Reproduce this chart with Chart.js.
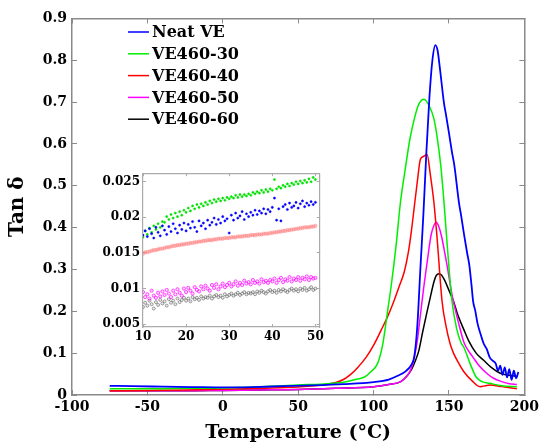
<!DOCTYPE html>
<html>
<head>
<meta charset="utf-8">
<script src="https://cdn.jsdelivr.net/npm/chart.js@4.4.0/dist/chart.umd.min.js"></script>
<style>
html, body { margin: 0; padding: 0; background: #fff; }
#wrap { position: relative; width: 548px; height: 447px; }
#main { position: absolute; left: 0; top: 0; }
#inset { position: absolute; left: 100px; top: 160px; }
</style>
</head>
<body>
<div id="wrap">
  <canvas id="main" width="548" height="447"></canvas>
  <canvas id="inset" width="230" height="190"></canvas>
</div>
<script>
// ---- DMA tan delta curves ----
var FONT = '"DejaVu Serif", serif';

var seriesNames  = ['Neat VE', 'VE460-30', 'VE460-40', 'VE460-50', 'VE460-60'];
var seriesColors = ['#0000ff', '#00ee00', '#ff0000', '#ff00ff', '#000000'];

var tempNeat = [-75,-60,-40,-20,0,20,40,60,80,100,110,116,121,125,127,129,131,133,135,137,139,141,142.5,144,146.7,148,150,152,153.5,156.6,158,160,162,163.5,165,166,167.5,169,171,173,175,177,179,181,182.5,184,185.5,187,188.5,190,191.5,193,194.5,196];
var tanNeat  = [0.022,0.021,0.020,0.019,0.018,0.019,0.021,0.023,0.026,0.031,0.037,0.046,0.056,0.072,0.092,0.165,0.30,0.43,0.58,0.71,0.80,0.836,0.822,0.78,0.697,0.67,0.626,0.58,0.55,0.46,0.43,0.383,0.34,0.31,0.26,0.224,0.20,0.17,0.145,0.123,0.11,0.09,0.082,0.075,0.058,0.07,0.048,0.066,0.042,0.062,0.036,0.058,0.04,0.055];

var temp30 = [-75,-50,-25,0,25,50,70,81,88,94,98,102.6,106,109,112,115,117.8,121,124,127,130,133.5,137,140,142,144.5,146.7,149,152,155,158,160,164,168,172,177,185,195];
var tan30  = [0.015,0.015,0.016,0.017,0.020,0.024,0.027,0.031,0.037,0.043,0.055,0.075,0.12,0.193,0.27,0.36,0.46,0.54,0.61,0.66,0.695,0.707,0.69,0.66,0.62,0.55,0.46,0.35,0.224,0.16,0.125,0.113,0.075,0.043,0.032,0.028,0.022,0.02];

var temp40 = [-75,-50,-25,0,25,50,75,80,85,89.5,95,100.6,105,109,113,117,120.4,123,125,127,129,131,133,135.5,137.5,140,142,145.4,148,150.7,153,156.6,160,165,170.6,174,177,185,195];
var tan40  = [0.010,0.011,0.012,0.014,0.016,0.019,0.030,0.037,0.05,0.066,0.09,0.123,0.155,0.185,0.22,0.26,0.295,0.34,0.39,0.45,0.51,0.563,0.57,0.575,0.53,0.46,0.38,0.224,0.165,0.123,0.10,0.075,0.055,0.035,0.02,0.022,0.024,0.02,0.015];

var temp50 = [-75,-50,-25,0,25,50,75,100,110,118,122,124.6,127,129,131,133.5,136,138,140,141.5,143,145,148.7,152,156.5,160,163,166,170,175,179.6,185,190,195];
var tan50  = [0.010,0.010,0.010,0.011,0.012,0.013,0.016,0.020,0.025,0.032,0.045,0.060,0.09,0.13,0.19,0.264,0.33,0.38,0.405,0.413,0.405,0.38,0.31,0.24,0.17,0.125,0.105,0.09,0.07,0.052,0.04,0.032,0.027,0.025];

var temp60 = [-75,-50,-25,0,25,50,75,100,110,118,122,125,127.5,130,132.5,135.5,138,140,141.5,143.4,145,147,150,153,156,160,163,168,173,178,184,190,195];
var tan60  = [0.010,0.010,0.010,0.011,0.012,0.013,0.016,0.020,0.025,0.032,0.045,0.060,0.08,0.106,0.15,0.20,0.24,0.27,0.285,0.29,0.287,0.275,0.25,0.224,0.19,0.155,0.13,0.10,0.083,0.066,0.052,0.047,0.045];

var xTicksMain = [-100,-50,0,50,100,150,200];
var yTicksMain = [0,0.1,0.2,0.3,0.4,0.5,0.6,0.7,0.8,0.9];

// ---- inset (10-50 °C) ----
var insetTemp = [10,10.5,11,11.5,12,12.5,13,13.5,14,14.5,15,15.5,16,16.5,17,17.5,18,18.5,19,19.5,20,20.5,21,21.5,22,22.5,23,23.5,24,24.5,25,25.5,26,26.5,27,27.5,28,28.5,29,29.5,30,30.5,31,31.5,32,32.5,33,33.5,34,34.5,35,35.5,36,36.5,37,37.5,38,38.5,39,39.5,40,40.5,41,41.5,42,42.5,43,43.5,44,44.5,45,45.5,46,46.5,47,47.5,48,48.5,49,49.5,50];
var insetNeat = [0.0175,0.0181,0.0173,0.0184,0.0177,0.0171,0.0186,0.0179,0.0174,0.0188,
                 0.0182,0.0176,0.0187,0.0180,0.0191,0.0184,0.0178,0.0189,0.0183,0.0192,
                 0.0181,0.0190,0.0185,0.0194,0.0186,0.0180,0.0195,0.0188,0.0192,0.0184,
                 0.0196,0.0189,0.0193,0.0199,0.0190,0.0197,0.0192,0.0201,0.0195,0.0198,
                 0.0178,0.0203,0.0196,0.0206,0.0199,0.0202,0.0208,0.0197,0.0205,0.0201,
                 0.0207,0.0203,0.0210,0.0204,0.0209,0.0206,0.0212,0.0205,0.0211,0.0208,
                 0.0214,0.0227,0.0196,0.0212,0.0195,0.0215,0.0218,0.0211,0.0220,0.0214,
                 0.0216,0.0221,0.0213,0.0219,0.0223,0.0215,0.0220,0.0217,0.0222,0.0218,
                 0.0221];
var insetVE30 = [0.0172,0.0181,0.0176,0.0185,0.0179,0.0188,0.0183,0.0191,0.0186,0.0194,
                 0.0193,0.0201,0.0197,0.0204,0.0199,0.0206,0.0201,0.0208,0.0203,0.0210,
                 0.0207,0.0213,0.0209,0.0216,0.0212,0.0218,0.0214,0.0219,0.0216,0.0221,
                 0.0218,0.0223,0.0220,0.0225,0.0222,0.0226,0.0223,0.0227,0.0224,0.0228,
                 0.0226,0.0229,0.0227,0.0231,0.0228,0.0232,0.0229,0.0232,0.0230,0.0233,
                 0.0231,0.0235,0.0233,0.0236,0.0234,0.0238,0.0235,0.0239,0.0236,0.0240,
                 0.0238,0.0253,0.0240,0.0243,0.0241,0.0245,0.0243,0.0247,0.0244,0.0248,
                 0.0246,0.0250,0.0247,0.0251,0.0248,0.0252,0.0249,0.0254,0.0250,0.0256,
                 0.0253];
var insetVE40 = [0.0149,0.0151,0.0151,0.0152,0.0153,0.0154,0.0154,0.0155,0.0156,0.0156,
                 0.0157,0.0158,0.0158,0.0159,0.0160,0.0160,0.0161,0.0161,0.0162,0.0162,
                 0.0163,0.0163,0.0164,0.0164,0.0165,0.0165,0.0166,0.0166,0.0167,0.0167,
                 0.0168,0.0168,0.0168,0.0169,0.0169,0.0170,0.0170,0.0170,0.0171,0.0171,
                 0.0171,0.0172,0.0172,0.0172,0.0173,0.0173,0.0173,0.0174,0.0174,0.0174,
                 0.0175,0.0175,0.0175,0.0176,0.0176,0.0176,0.0177,0.0177,0.0177,0.0178,
                 0.0178,0.0179,0.0179,0.0180,0.0180,0.0181,0.0181,0.0182,0.0182,0.0183,
                 0.0183,0.0184,0.0184,0.0185,0.0185,0.0186,0.0186,0.0186,0.0187,0.0187,
                 0.0188];
var insetVE50 = [0.0095,0.0088,0.0092,0.0086,0.0097,0.0090,0.0087,0.0094,0.0089,0.0096,
                 0.0091,0.0098,0.0093,0.0088,0.0097,0.0092,0.0099,0.0094,0.0090,0.0100,
                 0.0095,0.0101,0.0097,0.0093,0.0102,0.0098,0.0096,0.0103,0.0099,0.0104,
                 0.0100,0.0097,0.0105,0.0101,0.0106,0.0099,0.0103,0.0107,0.0102,0.0105,
                 0.0108,0.0103,0.0106,0.0110,0.0104,0.0108,0.0105,0.0111,0.0107,0.0109,
                 0.0106,0.0112,0.0108,0.0110,0.0107,0.0113,0.0109,0.0111,0.0108,0.0112,
                 0.0110,0.0114,0.0108,0.0112,0.0115,0.0109,0.0113,0.0111,0.0116,0.0110,
                 0.0114,0.0112,0.0116,0.0111,0.0115,0.0113,0.0117,0.0112,0.0116,0.0114,
                 0.0115];
var insetVE60 = [0.0074,0.0080,0.0076,0.0083,0.0078,0.0072,0.0081,0.0077,0.0084,0.0079,
                 0.0082,0.0076,0.0085,0.0080,0.0083,0.0078,0.0086,0.0081,0.0084,0.0087,
                 0.0083,0.0086,0.0082,0.0088,0.0085,0.0087,0.0084,0.0089,0.0086,0.0088,
                 0.0087,0.0090,0.0086,0.0089,0.0091,0.0088,0.0090,0.0087,0.0092,0.0089,
                 0.0091,0.0093,0.0090,0.0092,0.0094,0.0091,0.0093,0.0095,0.0092,0.0094,
                 0.0093,0.0095,0.0092,0.0096,0.0094,0.0097,0.0095,0.0093,0.0096,0.0098,
                 0.0095,0.0097,0.0094,0.0098,0.0096,0.0099,0.0097,0.0095,0.0098,0.0100,
                 0.0097,0.0099,0.0096,0.0100,0.0098,0.0101,0.0097,0.0099,0.0102,0.0098,
                 0.0100];

var xTicksInset = [10,20,30,40,50];
var yTicksInset = [0.005,0.01,0.015,0.02,0.025];
var yTickLabelsInset = ['0.005','0.01','0.015','0.02','0.025'];

function pairs(xs, ys) { return xs.map(function(x, i) { return { x: x, y: ys[i] }; }); }
function fixedTicks(vals) { return function(s) { s.ticks = vals.map(function(v) { return { value: v }; }); }; }

// native frame: grid ticks only (negative length = pointing inward) + axis border
function frameGrid(color, len) {
    return { display: true, drawOnChartArea: false, drawTicks: true, tickLength: -len, color: color, lineWidth: 1 };
}
function frameBorder(color, w) { return { display: true, color: color, width: w }; }

// line legend drawn inside the plot
function makeLegend(left, top, gap) {
    return {
        id: 'lineLegend',
        afterDraw: function(chart) {
            var ctx = chart.ctx;
            ctx.save();
            ctx.font = 'bold 16px ' + FONT;
            ctx.textBaseline = 'middle';
            chart.data.datasets.forEach(function(ds, k) {
                var y = top + k * gap;
                ctx.strokeStyle = ds.borderColor;
                ctx.lineWidth = 1.5;
                ctx.beginPath(); ctx.moveTo(left, y); ctx.lineTo(left + 21, y); ctx.stroke();
                ctx.fillStyle = '#000';
                ctx.fillText(ds.label, left + 24, y + 1);
            });
            ctx.restore();
        }
    };
}

var mainTemps = [tempNeat, temp30, temp40, temp50, temp60];
var mainTans  = [tanNeat, tan30, tan40, tan50, tan60];
var tickFont  = { family: FONT, size: 14, weight: 'bold' };

new Chart(document.getElementById('main'), {
    type: 'scatter',
    data: {
        datasets: seriesNames.map(function(name, i) {
            return {
                label: name,
                data: pairs(mainTemps[i], mainTans[i]),
                showLine: true,
                borderColor: seriesColors[i],
                backgroundColor: seriesColors[i],
                borderWidth: i === 0 ? 1.8 : 1.5,
                pointRadius: 0,
                cubicInterpolationMode: 'monotone'
            };
        })
    },
    options: {
        responsive: false,
        animation: false,
        layout: { padding: 0 },
        plugins: { legend: { display: false }, tooltip: { enabled: false } },
        scales: {
            x: {
                type: 'linear', position: 'bottom', min: -100, max: 200,
                afterBuildTicks: fixedTicks(xTicksMain),
                afterFit: function(s) { s.height = 52; },
                grid: frameGrid('#8a8a8a', 5), border: frameBorder('#8a8a8a', 1.5),
                ticks: { color: '#000', padding: 9, maxRotation: 0, font: tickFont },
                title: { display: true, text: 'Temperature (°C)', color: '#000', padding: { top: 0, bottom: 3 },
                         font: { family: FONT, size: 19, weight: 'bold' } }
            },
            x2: {
                type: 'linear', position: 'top', min: -100, max: 200,
                afterBuildTicks: fixedTicks(xTicksMain),
                afterFit: function(s) { s.height = 14; },
                grid: frameGrid('#8a8a8a', 5), border: frameBorder('#8a8a8a', 1.5),
                ticks: { display: false }
            },
            y: {
                type: 'linear', position: 'left', min: 0, max: 0.9,
                afterBuildTicks: fixedTicks(yTicksMain),
                afterFit: function(s) { s.width = 72; },
                grid: frameGrid('#8a8a8a', 5), border: frameBorder('#8a8a8a', 1.5),
                ticks: { color: '#000', padding: 10, font: tickFont },
                title: { display: true, text: 'Tan δ', color: '#000', padding: { top: 6, bottom: 0 },
                         font: { family: FONT, size: 20, weight: 'bold' } }
            },
            y2: {
                type: 'linear', position: 'right', min: 0, max: 0.9,
                afterBuildTicks: fixedTicks(yTicksMain),
                afterFit: function(s) { s.width = 20; },
                grid: frameGrid('#8a8a8a', 5), border: frameBorder('#8a8a8a', 1.5),
                ticks: { display: false }
            }
        }
    },
    plugins: [makeLegend(128, 32, 21.8)]
});

var insetSets = [insetNeat, insetVE30, insetVE40, insetVE50, insetVE60];
var insetStyle = [
    { r: 1.1, fill: '#0000ff', line: '#0000ff', w: 0.5 },
    { r: 1.1, fill: '#00e000', line: '#00e000', w: 0.5 },
    { r: 1.8, fill: 'rgba(255,120,120,0.45)', line: 'rgba(255,110,110,0.5)', w: 0.6 },
    { r: 1.6, fill: 'rgba(255,0,255,0.15)', line: 'rgba(255,0,255,0.85)', w: 0.8 },
    { r: 1.5, fill: 'rgba(120,120,120,0.15)', line: 'rgba(90,90,90,0.8)', w: 0.7 }
];
var insetFont = { family: FONT, size: 12, weight: 'bold' };

new Chart(document.getElementById('inset'), {
    type: 'scatter',
    data: {
        datasets: insetSets.map(function(vals, i) {
            return {
                label: seriesNames[i],
                data: pairs(insetTemp, vals),
                pointRadius: insetStyle[i].r,
                pointBackgroundColor: insetStyle[i].fill,
                pointBorderColor: insetStyle[i].line,
                pointBorderWidth: insetStyle[i].w
            };
        })
    },
    options: {
        responsive: false,
        animation: false,
        layout: { padding: 0 },
        plugins: { legend: { display: false }, tooltip: { enabled: false } },
        scales: {
            x: {
                type: 'linear', position: 'bottom', min: 10, max: 51,
                afterBuildTicks: fixedTicks(xTicksInset),
                afterFit: function(s) { s.height = 23; },
                grid: frameGrid('#aaa', 3), border: frameBorder('#aaa', 1.2),
                ticks: { color: '#000', padding: 6, maxRotation: 0, font: insetFont }
            },
            x2: {
                type: 'linear', position: 'top', min: 10, max: 51,
                afterBuildTicks: fixedTicks(xTicksInset),
                afterFit: function(s) { s.height = 8; },
                grid: frameGrid('#aaa', 3), border: frameBorder('#aaa', 1.2),
                ticks: { display: false }
            },
            y: {
                type: 'linear', position: 'left', min: 0.0046, max: 0.0262,
                afterBuildTicks: fixedTicks(yTicksInset),
                afterFit: function(s) { s.width = 43; },
                grid: frameGrid('#aaa', 3), border: frameBorder('#aaa', 1.2),
                ticks: { color: '#000', padding: 6, font: insetFont,
                         callback: function(v, idx) { return yTickLabelsInset[idx]; } }
            },
            y2: {
                type: 'linear', position: 'right', min: 0.0046, max: 0.0262,
                afterBuildTicks: fixedTicks(yTicksInset),
                afterFit: function(s) { s.width = 7; },
                grid: frameGrid('#aaa', 3), border: frameBorder('#aaa', 1.2),
                ticks: { display: false }
            }
        }
    }
});
</script>
</body>
</html>
